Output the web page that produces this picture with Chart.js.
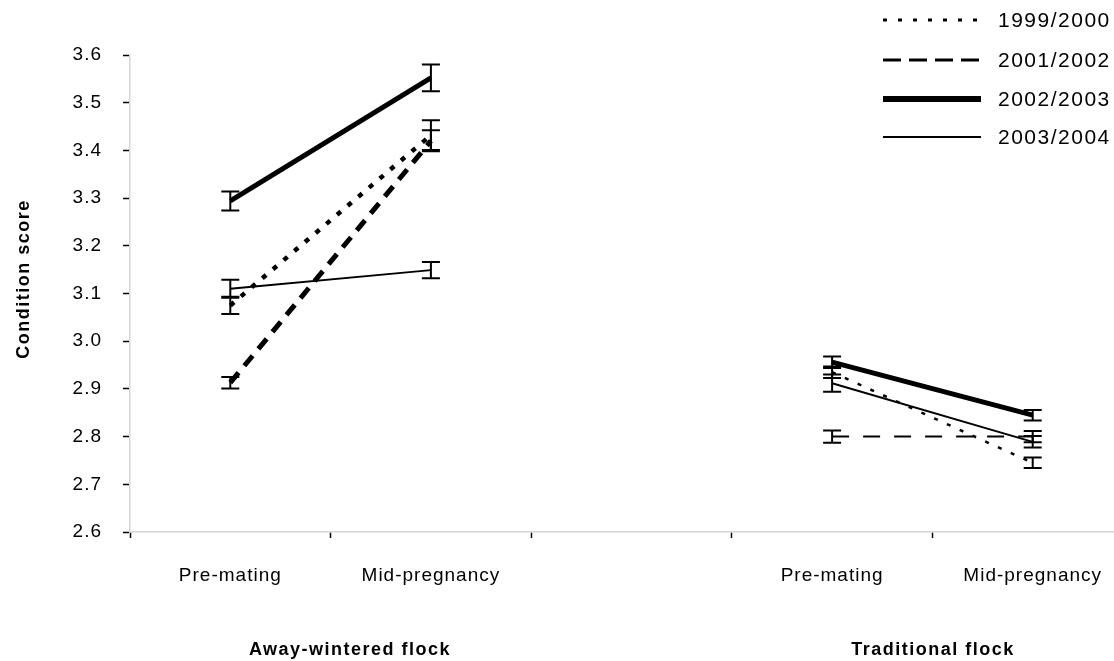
<!DOCTYPE html>
<html>
<head>
<meta charset="utf-8">
<script src="https://cdn.jsdelivr.net/npm/chart.js@4.4.1/dist/chart.umd.min.js"></script>
<style>
    html, body { margin: 0; padding: 0; background: #fff; overflow: hidden; }
    #wrap { width: 1114px; height: 661px; overflow: hidden; }
</style>
</head>
<body>
<div id="wrap"><canvas id="condition-chart" width="1134" height="661"></canvas></div>
<script>
// categories (the empty one separates the two flocks)
const categories = ['Pre-mating', 'Mid-pregnancy', '', 'Pre-mating', 'Mid-pregnancy'];
const yTicks = [2.6, 2.7, 2.8, 2.9, 3.0, 3.1, 3.2, 3.3, 3.4, 3.5, 3.6];

// condition score means and standard errors per season
const score1999 = [3.075, 3.432, null, 2.935, 2.745];
const err1999 = [0.018, 0.031, null, 0.012, 0.011];
const score2001 = [2.913, 3.420, null, 2.800, 2.800];
const err2001 = [0.012, 0.022, null, 0.013, 0.012];
const score2002 = [3.294, 3.552, null, 2.956, 2.845];
const err2002 = [0.020, 0.028, null, 0.012, 0.011];
const score2003 = [3.110, 3.149, null, 2.912, 2.789];
const err2003 = [0.019, 0.017, null, 0.018, 0.012];

const FONT = '"Liberation Sans", Arial, sans-serif';

// error bars, axis titles and the legend
const extrasPlugin = {
    id: 'extras',
    beforeLayout(chart) { chart.ctx.letterSpacing = '1px'; },
    beforeDraw(chart) { chart.ctx.letterSpacing = '1px'; },
    afterDatasetsDraw(chart) {
        const ctx = chart.ctx;
        const xs = chart.scales.x, ys = chart.scales.y;
        ctx.save();
        ctx.strokeStyle = '#000';
        ctx.lineWidth = 2;
        ctx.setLineDash([]);
        chart.data.datasets.forEach(ds => {
            ds.data.forEach((v, i) => {
                if (v === null) return;
                const e = ds.errors[i];
                const px = xs.getPixelForValue(i);
                const top = ys.getPixelForValue(v + e);
                const bot = ys.getPixelForValue(v - e);
                ctx.beginPath();
                ctx.moveTo(px, top); ctx.lineTo(px, bot);
                ctx.moveTo(px - 9, top); ctx.lineTo(px + 9, top);
                ctx.moveTo(px - 9, bot); ctx.lineTo(px + 9, bot);
                ctx.stroke();
            });
        });

        // axis titles
        ctx.fillStyle = '#000';
        ctx.letterSpacing = '1.5px';
        ctx.font = 'bold 18px ' + FONT;
        ctx.textAlign = 'center';
        ctx.textBaseline = 'middle';
        ctx.fillText('Away-wintered flock', 350, 650);
        ctx.fillText('Traditional flock', 933, 650);
        ctx.save();
        ctx.translate(24, 279);
        ctx.rotate(-Math.PI / 2);
        ctx.fillText('Condition score', 0, 0);
        ctx.restore();

        // legend
        const rows = [20, 60, 99, 137];
        const legendStyle = [
            { dash: [4, 11], width: 3 },
            { dash: [18, 8], width: 3 },
            { dash: [], width: 6 },
            { dash: [], width: 2 }
        ];
        ctx.font = '21px ' + FONT;
        ctx.letterSpacing = '1.5px';
        ctx.textAlign = 'left';
        chart.data.datasets.forEach((ds, i) => {
            const st = legendStyle[i];
            ctx.beginPath();
            ctx.setLineDash(st.dash);
            ctx.lineWidth = st.width;
            ctx.moveTo(883, rows[i]);
            ctx.lineTo(981, rows[i]);
            ctx.stroke();
            ctx.fillText(ds.label, 998, rows[i] + 1);
        });
        ctx.restore();
    }
};

new Chart(document.getElementById('condition-chart').getContext('2d'), {
    type: 'line',
    data: {
        labels: categories,
        datasets: [
            {
                label: '1999/2000',
                data: score1999,
                errors: err1999,
                borderColor: '#000',
                borderWidth: 4.5,
                borderDash: [5, 9],
                segment: {
                    borderWidth: c => c.p0DataIndex < 2 ? 4.5 : 2.5,
                    borderDash: c => c.p0DataIndex < 2 ? [5, 9] : [4, 10]
                }
            },
            {
                label: '2001/2002',
                data: score2001,
                errors: err2001,
                borderColor: '#000',
                borderWidth: 5,
                borderDash: [13, 9],
                segment: {
                    borderWidth: c => c.p0DataIndex < 2 ? 5 : 2,
                    borderDash: c => c.p0DataIndex < 2 ? [13, 9] : [17, 14]
                }
            },
            {
                label: '2002/2003',
                data: score2002,
                errors: err2002,
                borderColor: '#000',
                borderWidth: 5
            },
            {
                label: '2003/2004',
                data: score2003,
                errors: err2003,
                borderColor: '#000',
                borderWidth: 2
            }
        ]
    },
    options: {
        responsive: false,
        animation: false,
        spanGaps: false,
        layout: { padding: { top: 55, right: 1, left: 0, bottom: 0 } },
        elements: { point: { radius: 0, hoverRadius: 0 }, line: { tension: 0 } },
        plugins: {
            legend: { display: false },
            tooltip: { enabled: false }
        },
        scales: {
            x: {
                offset: true,
                grid: {
                    offset: true,
                    drawOnChartArea: false,
                    tickLength: 6,
                    tickColor: '#000',
                    tickWidth: 1.5
                },
                border: { color: '#d4d4d4', width: 1.5 },
                ticks: {
                    color: '#000',
                    padding: 26,
                    maxRotation: 0,
                    autoSkip: false,
                    font: { family: FONT, size: 19 }
                },
                afterFit: s => { s.height = 129; }
            },
            y: {
                min: 2.6,
                max: 3.6,
                afterBuildTicks: s => { s.ticks = yTicks.map(v => ({ value: v })); },
                grid: {
                    drawOnChartArea: false,
                    tickLength: 7,
                    tickColor: '#000',
                    tickWidth: 1.5
                },
                border: { color: '#d4d4d4', width: 1.5 },
                ticks: {
                    color: '#000',
                    padding: 21,
                    font: { family: FONT, size: 19 },
                    callback: v => v.toFixed(1)
                },
                afterFit: s => { s.width = 130; }
            }
        }
    },
    plugins: [extrasPlugin]
});
</script>
</body>
</html>
